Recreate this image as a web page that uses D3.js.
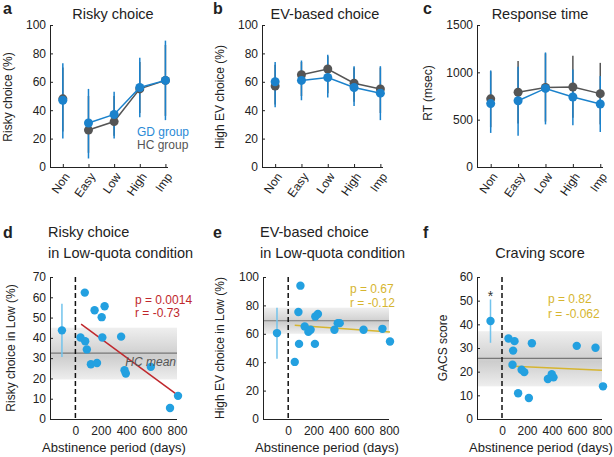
<!DOCTYPE html>
<html>
<head>
<meta charset="utf-8">
<script src="https://cdn.jsdelivr.net/npm/d3@7"></script>
<style>
  body { margin: 0; background: #fff; }
  svg { font-family: "Liberation Sans", Arial, sans-serif; }
  .tick text { font-size: 12px; fill: #222; }
  .domain, .tick line { stroke: #222; }
</style>
</head>
<body>
<svg id="fig" width="614" height="457"></svg>
<script>
// ---- data: top row (condition means, error bar ends) ----
const conditions = ["Non", "Easy", "Low", "High", "Imp"];

const riskGD = [47, 31, 37, 56, 61];
const riskGDLo = [20, 6, 20, 35, 33];
const riskGDHi = [73, 55, 53, 77, 89];
const riskHC = [48, 26, 32, 55, 61];
const riskHCLo = [25, 10, 22, 38, 36];
const riskHCHi = [70, 50, 50, 74, 86];

const evGD = [60, 61, 63, 56, 52];
const evGDLo = [42, 47, 49, 43, 33];
const evGDHi = [74, 75, 79, 71, 71];
const evHC = [57, 65, 69, 59, 55];
const evHCLo = [44, 50, 52, 46, 38];
const evHCHi = [72, 74, 78, 70, 70];

const rtGD = [670, 700, 830, 740, 665];
const rtGDLo = [360, 330, 450, 440, 370];
const rtGDHi = [1020, 1060, 1210, 1030, 960];
const rtHC = [720, 790, 840, 845, 775];
const rtHCLo = [420, 460, 480, 520, 450];
const rtHCHi = [1010, 1120, 1200, 1175, 1100];

// ---- data: bottom row (abstinence scatter) ----
const riskDays = [74, 40, 77, 90, 122, 170, 151, 207, 230, 212, 360, 387, 397, 594, 745, 808];
const riskLow = [62.3, 40.2, 38.3, 34.3, 27, 27.6, 53.6, 50.2, 55.6, 40.2, 40.6, 24, 22.4, 25.7, 5.4, 11.4];
const evDays = [97, 81, 86, 52, 131, 160, 178, 215, 236, 212, 367, 393, 409, 598, 748, 808];
const evLow = [93.9, 75.3, 52.9, 40.2, 65.2, 61.4, 62.8, 72.2, 73.9, 52.9, 62.8, 67.5, 67.5, 62.8, 63.5, 54.6];
const gacsDays = [52, 100, 89, 84, 157, 178, 129, 215, 239, 367, 398, 412, 598, 748, 808];
const gacsScore = [34, 32.9, 28.9, 22.9, 20.8, 19.8, 10.9, 8.9, 32, 16.9, 18.9, 17.6, 30.9, 30.1, 13.8];

// GD group mean (x position, mean, lo, hi) shown left of the zero line
const riskGroup = [-106, 43.7, 30.6, 56.8];
const evGroup = [-89, 60.5, 42.4, 78.4];
const gacsGroup = [-92, 41.4, 32.2, 50.5];

// HC mean and band (mean, lo, hi)
const riskHCBand = [32.5, 19.5, 45];
const evHCBand = [69.2, 60, 78.4];
const gacsHCBand = [25.6, 13.8, 37.1];

// regression fit end points [x0, y0, x1, y1]
const riskFit = [45, 46.8, 808, 11.6];
const evFit = [52, 66.1, 808, 61.2];
const gacsFit = [52, 22.4, 800, 20.6];

const BLUE = "#1b82cc";
const DOT = "#23a0e0";
const GRAY = "#555";
const RED = "#c0282d";
const YELLOW = "#d6b530";

const svg = d3.select("#fig");

// gradient for HC band
const grad = svg.append("defs").append("linearGradient")
  .attr("id", "band").attr("x1", 0).attr("x2", 0).attr("y1", 0).attr("y2", 1);
grad.append("stop").attr("offset", "0%").attr("stop-color", "#efefef");
grad.append("stop").attr("offset", "55%").attr("stop-color", "#cdcdcd");
grad.append("stop").attr("offset", "100%").attr("stop-color", "#eeeeee");

function label(x, y, txt, opts = {}) {
  return svg.append("text")
    .attr("x", x).attr("y", y)
    .attr("text-anchor", opts.anchor || "start")
    .style("font-size", (opts.size || 12) + "px")
    .style("font-weight", opts.bold ? "bold" : "normal")
    .style("font-style", opts.italic ? "italic" : "normal")
    .style("fill", opts.color || "#222")
    .text(txt);
}

function yLabel(cx, cy, txt) {
  svg.append("text")
    .attr("transform", `translate(${cx},${cy}) rotate(-90)`)
    .attr("text-anchor", "middle")
    .style("font-size", "12px")
    .style("fill", "#222")
    .text(txt);
}

function linePanel(left, right, yMax, yTicks, gd, gdLo, gdHi, hc, hcLo, hcHi) {
  const x = d3.scaleLinear().domain([-0.5, 4.1]).range([left, right]);
  const y = d3.scaleLinear().domain([0, yMax]).range([167, 25]);
  const g = svg.append("g");

  g.append("g")
    .attr("transform", "translate(0,167)")
    .call(d3.axisBottom(x).tickValues([0, 1, 2, 3, 4]).tickSize(-3).tickFormat(""));
  g.selectAll(".domain").attr("d", `M${left},0.5H${right}`);

  conditions.forEach((c, i) => {
    g.append("text")
      .attr("transform", `translate(${x(i) + 4},174) rotate(-55)`)
      .attr("text-anchor", "end")
      .attr("dy", "0.35em")
      .style("font-size", "12px")
      .style("fill", "#222")
      .text(c);
  });

  g.append("g")
    .attr("transform", `translate(${left},0)`)
    .call(d3.axisLeft(y).tickValues(yTicks).tickSize(-3).tickPadding(4).tickFormat(d3.format("d")));

  // error bars: HC under GD
  g.selectAll(".ehc").data(hc).enter().append("line")
    .attr("x1", (d, i) => x(i)).attr("x2", (d, i) => x(i))
    .attr("y1", (d, i) => y(hcLo[i])).attr("y2", (d, i) => y(hcHi[i]))
    .style("stroke", GRAY).style("stroke-width", 1.5);
  g.selectAll(".egd").data(gd).enter().append("line")
    .attr("x1", (d, i) => x(i)).attr("x2", (d, i) => x(i))
    .attr("y1", (d, i) => y(gdLo[i])).attr("y2", (d, i) => y(gdHi[i]))
    .style("stroke", BLUE).style("stroke-width", 1.5);

  const line = d3.line().x((d) => x(d.i)).y((d) => y(d.v));
  [[hc, GRAY], [gd, BLUE]].forEach(([vals, col]) => {
    const pts = vals.map((v, i) => ({ i, v }));
    g.append("path")
      .datum(pts.slice(1))
      .attr("d", line)
      .style("fill", "none").style("stroke", col).style("stroke-width", 1.5);
    g.selectAll(null).data(pts).enter().append("circle")
      .attr("cx", (d) => x(d.i)).attr("cy", (d) => y(d.v))
      .attr("r", 4.5).style("fill", col);
  });
}

function scatterPanel(left, right, yMax, yTicks, days, vals, group, band, fit, fitColor) {
  const x = d3.scaleLinear().domain([-200, 800]).range([left, right]);
  const y = d3.scaleLinear().domain([0, yMax]).range([419, 277]);
  const g = svg.append("g");

  // HC band and mean line
  g.append("rect")
    .attr("x", left).attr("width", x(800) - left)
    .attr("y", y(band[2])).attr("height", y(band[1]) - y(band[2]))
    .style("fill", "url(#band)");
  g.append("line")
    .attr("x1", left).attr("x2", x(800))
    .attr("y1", y(band[0])).attr("y2", y(band[0]))
    .style("stroke", "#777").style("stroke-width", 1.2);

  g.append("g")
    .attr("transform", "translate(0,419)")
    .call(d3.axisBottom(x).tickValues([0, 200, 400, 600, 800]).tickSize(0).tickPadding(7));
  g.selectAll(".domain").attr("d", `M${left},0.5H${right}`);

  g.append("g")
    .attr("transform", `translate(${left},0)`)
    .call(d3.axisLeft(y).tickValues(yTicks).tickSize(-3).tickPadding(4));

  // zero line
  g.append("line")
    .attr("x1", x(0)).attr("x2", x(0))
    .attr("y1", y(yMax)).attr("y2", 419)
    .style("stroke", "#111").style("stroke-width", 1.5)
    .style("stroke-dasharray", "5,3");

  // group mean with error bar
  g.append("line")
    .attr("x1", x(group[0])).attr("x2", x(group[0]))
    .attr("y1", y(group[2])).attr("y2", y(group[3]))
    .style("stroke", "#72c3ec").style("stroke-width", 1.5);
  g.append("circle")
    .attr("cx", x(group[0])).attr("cy", y(group[1])).attr("r", 4.2)
    .style("fill", DOT);

  // fit line
  g.append("line")
    .attr("x1", x(fit[0])).attr("y1", y(fit[1]))
    .attr("x2", x(fit[2])).attr("y2", y(fit[3]))
    .style("stroke", fitColor).style("stroke-width", 1.5);

  g.selectAll(null).data(days).enter().append("circle")
    .attr("cx", (d) => x(d)).attr("cy", (d, i) => y(vals[i]))
    .attr("r", 4.2).style("fill", DOT);

  return { x, y };
}

// ---- top row ----
linePanel(50, 168, 100, [0, 20, 40, 60, 80, 100], riskGD, riskGDLo, riskGDHi, riskHC, riskHCLo, riskHCHi);
linePanel(262, 383, 100, [0, 20, 40, 60, 80, 100], evGD, evGDLo, evGDHi, evHC, evHCLo, evHCHi);
linePanel(477, 603, 1500, [0, 500, 1000, 1500], rtGD, rtGDLo, rtGDHi, rtHC, rtHCLo, rtHCHi);

label(3, 14, "a", { bold: true, size: 16 });
label(213, 14, "b", { bold: true, size: 16 });
label(423, 14, "c", { bold: true, size: 16 });
label(113, 19, "Risky choice", { anchor: "middle", size: 14.5 });
label(325, 19, "EV-based choice", { anchor: "middle", size: 14.5 });
label(540, 19, "Response time", { anchor: "middle", size: 14.5 });
yLabel(12, 97, "Risky choice (%)");
yLabel(224, 97, "High EV choice (%)");
yLabel(432, 93, "RT (msec)");
label(137, 136, "GD group", { color: "#2a8ad6" });
label(137, 149, "HC group", { color: "#555" });

// ---- bottom row ----
scatterPanel(50, 177, 70, [0, 10, 20, 30, 40, 50, 60, 70], riskDays, riskLow, riskGroup, riskHCBand, riskFit, RED);
scatterPanel(263, 389, 100, [0, 20, 40, 60, 80, 100], evDays, evLow, evGroup, evHCBand, evFit, YELLOW);
const pf = scatterPanel(477, 602, 60, [0, 10, 20, 30, 40, 50, 60], gacsDays, gacsScore, gacsGroup, gacsHCBand, gacsFit, YELLOW);

label(3, 238, "d", { bold: true, size: 16 });
label(213, 238, "e", { bold: true, size: 16 });
label(423, 238, "f", { bold: true, size: 16 });
label(48, 237, "Risky choice", { size: 14.5 });
label(48, 258, "in Low-quota condition", { size: 14.5 });
label(260, 237, "EV-based choice", { size: 14.5 });
label(260, 258, "in Low-quota condition", { size: 14.5 });
label(540, 258, "Craving score", { anchor: "middle", size: 14.5 });

yLabel(15, 348, "Risky choice in Low (%)");
yLabel(224, 348, "High EV choice in Low (%)");
yLabel(447, 348, "GACS score");

label(114, 452, "Abstinence period (days)", { anchor: "middle", size: 13 });
label(327, 452, "Abstinence period (days)", { anchor: "middle", size: 13 });
label(541, 452, "Abstinence period (days)", { anchor: "middle", size: 13 });

label(135, 304, "p = 0.0014", { color: RED, size: 12 });
label(135, 317, "r = -0.73", { color: RED, size: 12 });
label(176, 366, "HC mean", { anchor: "end", italic: true, color: "#555", size: 12 });
label(350, 293, "p = 0.67", { color: YELLOW, size: 12 });
label(350, 307, "r = -0.12", { color: YELLOW, size: 12 });
label(548, 303, "p = 0.82", { color: YELLOW, size: 12 });
label(548, 318, "r = -0.062", { color: YELLOW, size: 12 });

// significance mark above GD craving mean
label(pf.x(gacsGroup[0]), pf.y(gacsGroup[3]) + 2, "*", { anchor: "middle", size: 14, color: "#333" });
</script>
</body>
</html>
